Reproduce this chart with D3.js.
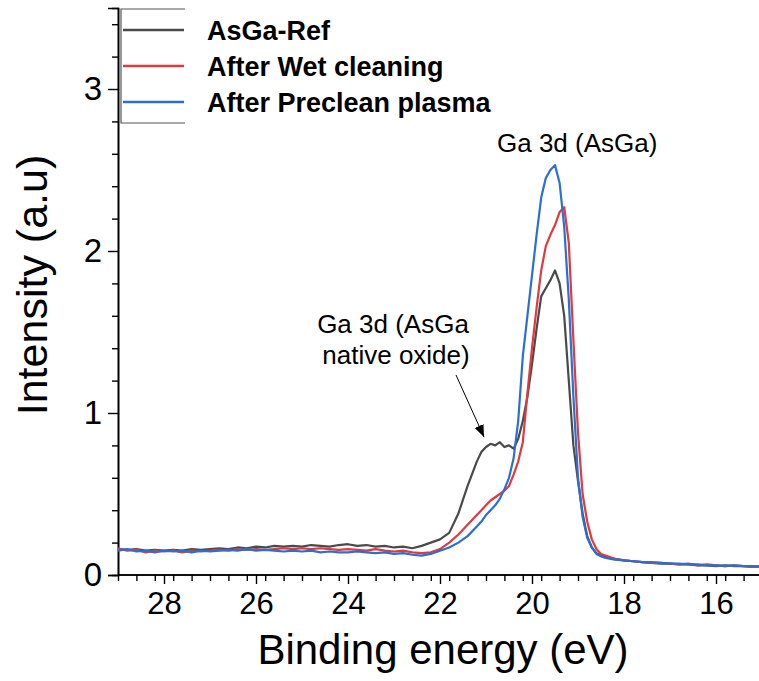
<!DOCTYPE html>
<html>
<head>
<meta charset="utf-8">
<style>
    body { margin: 0; background: #fff; }
    text { font-family: "Liberation Sans", Arial, sans-serif; }
</style>
</head>
<body>
<div id="vis"></div>

<script src="https://d3js.org/d3.v7.min.js"></script>
<script>
    // binding energies (eV), shared by the three spectra
    let energy = [29.0, 28.8, 28.6, 28.4, 28.2, 28.0, 27.8, 27.6, 27.4, 27.2,
        27.0, 26.8, 26.6, 26.4, 26.2, 26.0, 25.8, 25.6, 25.4, 25.2,
        25.0, 24.8, 24.6, 24.4, 24.2, 24.0, 23.8, 23.6, 23.4, 23.2,
        23.0, 22.8, 22.6, 22.4, 22.2, 22.0, 21.8, 21.6, 21.4, 21.2,
        21.1, 21.0, 20.9, 20.8, 20.7, 20.6, 20.5, 20.4, 20.3, 20.2,
        20.1, 20.0, 19.9, 19.8, 19.7, 19.6, 19.5, 19.4, 19.3, 19.2,
        19.1, 19.0, 18.9, 18.8, 18.7, 18.6, 18.5,
        18.4, 18.2, 18.0, 17.8, 17.6, 17.4, 17.2, 17.0, 16.8, 16.6,
        16.4, 16.2, 16.0, 15.8, 15.6, 15.4, 15.2, 15.0];

    let asgaRef = [.16, .155, .16, .15, .155, .15, .155, .15, .16, .155,
        .16, .165, .16, .17, .165, .175, .17, .18, .175, .18,
        .175, .185, .18, .175, .185, .19, .18, .185, .175, .18,
        .17, .175, .165, .18, .2, .22, .26, .38, .55, .7,
        .76, .79, .81, .8, .82, .79, .8, .78, .84, .95,
        1.1, 1.3, 1.52, 1.72, 1.77, 1.82, 1.88, 1.8, 1.6, 1.2,
        .8, .58, .38, .24, .17, .135, .12,
        .11, .1, .09, .085, .08, .075, .07, .07, .065, .065,
        .06, .06, .055, .06, .055, .055, .05, .055];

    let wetClean = [.165, .15, .155, .14, .15, .145, .15, .14, .15, .145,
        .15, .155, .15, .16, .155, .16, .155, .16, .165, .16,
        .165, .16, .165, .16, .155, .16, .155, .15, .16, .15,
        .145, .15, .14, .135, .14, .16, .2, .25, .31, .37,
        .4, .43, .46, .48, .5, .52, .55, .62, .7, .82,
        1.12, 1.4, 1.65, 1.88, 2.03, 2.1, 2.16, 2.24, 2.27, 2.05,
        1.45, .88, .5, .33, .22, .16, .13,
        .12, .1, .09, .085, .08, .075, .075, .07, .065, .07,
        .06, .065, .06, .055, .06, .055, .05, .055];

    let plasma = [.15, .16, .145, .15, .14, .15, .145, .15, .14, .15,
        .145, .15, .155, .15, .16, .15, .155, .15, .145, .15,
        .145, .15, .14, .145, .14, .14, .145, .14, .135, .14,
        .13, .135, .125, .12, .13, .15, .17, .2, .24, .3,
        .33, .37, .4, .43, .47, .53, .6, .72, .95, 1.35,
        1.6, 1.85, 2.1, 2.33, 2.45, 2.5, 2.53, 2.42, 2.15, 1.7,
        1.1, .6, .36, .23, .17, .13, .115,
        .105, .095, .09, .085, .08, .08, .075, .07, .07, .065,
        .065, .06, .06, .055, .06, .055, .055, .05];

    let seriesNames = ["AsGa-Ref", "After Wet cleaning", "After Preclean plasma"];
    let seriesColors = ["#4a4a4a", "#e0393e", "#2a6fd2"];
    let xTicks = [28, 26, 24, 22, 20, 18, 16];
    let yTicks = [0, 1, 2, 3];

    let width = 759, height = 681;

    let svg = d3.select("#vis")
        .append("svg")
        .attr("width", width)
        .attr("height", height);

    // scales (energy axis reversed, as usual for XPS)
    let x = d3.scaleLinear().domain([29, 15]).range([118, 762]);
    let y = d3.scaleLinear().domain([0, 3.5]).range([575, 8]);

    // minor ticks
    let xMinor = d3.range(29, 14.9, -0.4).filter(v => xTicks.indexOf(Math.round(v * 10) / 10) < 0);
    let yMinor = d3.range(0.2, 3.45, 0.2).filter(v => Math.abs(v - Math.round(v)) > 0.01);

    let gx = svg.append("g")
        .attr("transform", "translate(0," + y(0) + ")");
    gx.call(d3.axisBottom(x).tickValues(xMinor).tickSize(6).tickFormat(""));
    gx.append("g").call(d3.axisBottom(x).tickValues(xTicks).tickSize(9).tickPadding(8).tickFormat(d3.format("d")));
    gx.selectAll("path").attr("stroke-width", 1.6);
    gx.selectAll("line").attr("stroke-width", 1.4);
    gx.selectAll("text")
        .style("font-size", "31px")
        .attr("fill", "#000");

    let gy = svg.append("g")
        .attr("transform", "translate(" + x(29) + ",0)");
    gy.call(d3.axisLeft(y).tickValues(yMinor).tickSize(6).tickFormat(""));
    gy.append("g").call(d3.axisLeft(y).tickValues(yTicks).tickSize(10).tickPadding(6).tickFormat(d3.format("d")));
    gy.selectAll("path").attr("stroke-width", 1.6);
    gy.selectAll("line").attr("stroke-width", 1.4);
    gy.selectAll("text")
        .style("font-size", "33px")
        .attr("fill", "#000");
    gx.selectAll(".domain").attr("d", "M" + x(29) + ",0H" + width);

    // axis titles
    svg.append("text")
        .attr("x", 443)
        .attr("y", 664)
        .style("text-anchor", "middle")
        .style("font-size", "42px")
        .text("Binding energy (eV)");

    svg.append("text")
        .attr("transform", "rotate(-90)")
        .attr("x", -285)
        .attr("y", 47)
        .style("text-anchor", "middle")
        .style("font-size", "43px")
        .text("Intensity (a.u)");

    // spectra
    svg.append("clipPath").attr("id", "plot")
        .append("rect")
        .attr("x", x(29)).attr("y", 0)
        .attr("width", width - x(29)).attr("height", y(0));

    let line = d3.line()
        .x(function (d) { return x(d[0]); })
        .y(function (d) { return y(d[1]); });

    let allSeries = [asgaRef, wetClean, plasma];
    allSeries.forEach(function (vals, i) {
        svg.append("path")
            .datum(energy.map(function (e, j) { return [e, vals[j]]; }))
            .attr("clip-path", "url(#plot)")
            .attr("fill", "none")
            .attr("stroke", seriesColors[i])
            .attr("stroke-width", 2.2)
            .attr("stroke-linejoin", "round")
            .attr("d", line);
    });

    // legend box (left, top and bottom edges only)
    let legend = svg.append("g");
    legend.append("path")
        .attr("d", "M185,9H121V123H185")
        .attr("fill", "none")
        .attr("stroke", "#555")
        .attr("stroke-width", 1.2);

    seriesNames.forEach(function (name, i) {
        let ly = 30 + i * 36;
        legend.append("line")
            .attr("x1", 123).attr("x2", 184)
            .attr("y1", ly).attr("y2", ly)
            .attr("stroke", seriesColors[i])
            .attr("stroke-width", 2.4);
        legend.append("text")
            .attr("x", 207)
            .attr("y", ly + 10)
            .style("font-size", "27px")
            .style("font-weight", "bold")
            .text(name);
    });

    // annotations
    svg.append("text")
        .attr("x", 497)
        .attr("y", 152)
        .style("font-size", "26px")
        .text("Ga 3d (AsGa)");

    svg.append("text")
        .attr("x", 393)
        .attr("y", 333)
        .style("text-anchor", "middle")
        .style("font-size", "26px")
        .text("Ga 3d (AsGa");

    svg.append("text")
        .attr("x", 396)
        .attr("y", 364)
        .style("text-anchor", "middle")
        .style("font-size", "26px")
        .text("native oxide)");

    svg.append("defs").append("marker")
        .attr("id", "arrow")
        .attr("viewBox", "0 0 10 10")
        .attr("refX", 10).attr("refY", 5)
        .attr("markerWidth", 12).attr("markerHeight", 12)
        .attr("markerUnits", "userSpaceOnUse")
        .attr("orient", "auto")
        .append("path")
        .attr("d", "M0,1L10,5L0,9Z")
        .attr("fill", "#000");

    svg.append("line")
        .attr("x1", 456).attr("y1", 375)
        .attr("x2", 484).attr("y2", 437)
        .attr("stroke", "#000")
        .attr("stroke-width", 1)
        .attr("marker-end", "url(#arrow)");
</script>
</body>
</html>
